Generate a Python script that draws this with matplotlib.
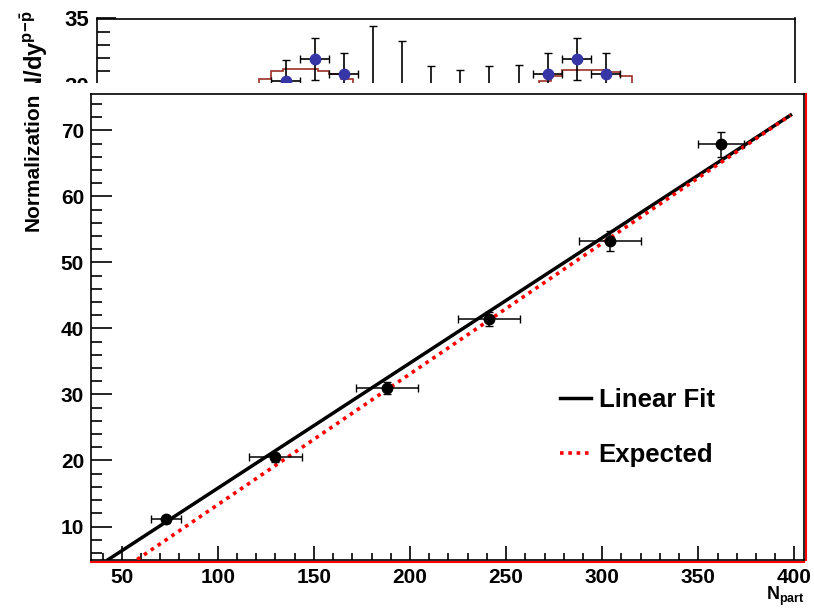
import matplotlib.pyplot as plt
from matplotlib.ticker import MultipleLocator, NullLocator
from matplotlib.transforms import offset_copy

plt.rcParams['font.family'] = ['Liberation Sans', 'DejaVu Sans']
plt.rcParams['font.weight'] = 'bold'
plt.rcParams['mathtext.fontset'] = 'custom'
plt.rcParams['mathtext.rm'] = 'Liberation Sans:bold'
plt.rcParams['mathtext.bf'] = 'Liberation Sans:bold'

# main panel: normalization vs N_part
npart = [73, 130, 188, 241, 304, 362]
npart_err = [8, 14, 16, 16, 16, 12]
norm = [11.1, 20.5, 31.0, 41.4, 53.2, 67.9]
norm_err = [0.5, 0.7, 0.9, 1.1, 1.5, 1.9]

fit_npart = [43, 398]
fit_norm = [5.0, 72.3]
exp_npart = [58, 398]
exp_norm = [5.0, 72.3]

# background panel (dN/dy), mostly hidden
rap_pts = [-0.55, -0.45, -0.35, 0.35, 0.45, 0.55]
dndy_pts = [30.25, 31.95, 30.8, 30.78, 31.95, 30.78]
dndy_err = [1.6, 1.6, 1.6, 1.6, 1.6, 1.6]
rap_mid = [-0.25, -0.15, -0.05, 0.05, 0.15, 0.25]
dndy_mid = [27.8, 28.6, 28.9, 28.7, 28.9, 29.0]
dndy_mid_err = [6.6, 4.7, 2.5, 2.4, 2.5, 2.5]
hist_left_edges = [-0.68, -0.64, -0.60, -0.56, -0.52, -0.48, -0.44, -0.40, -0.36, -0.32, -0.28]
hist_left = [29.8, 30.43, 31.0, 31.19, 31.2, 31.2, 31.0, 30.76, 30.43, 29.8]
hist_right_edges = [0.28, 0.32, 0.36, 0.40, 0.44, 0.48, 0.52, 0.56, 0.60, 0.64, 0.68]
hist_right = [29.8, 30.25, 30.63, 31.08, 31.1, 31.1, 31.1, 30.93, 30.63, 29.8]

W, H = 814, 608
fig = plt.figure(figsize=(W / 100, H / 100), dpi=100)

# upper panel
up = fig.add_axes([96.5 / W, (H - 400) / H, (795 - 96.5) / W, (400 - 18.5) / H])
up.set_xlim(-1.2, 1.2)
up.set_ylim(6.1, 35)
up.stairs(hist_left, hist_left_edges, color='#9c2e26', lw=1.2)
up.stairs(hist_right, hist_right_edges, color='#9c2e26', lw=1.2)
up.errorbar(rap_mid, dndy_mid, xerr=0.05, yerr=dndy_mid_err, fmt='none',
            ecolor='black', elinewidth=1.2, capsize=3)
up.errorbar(rap_pts, dndy_pts, xerr=0.05, yerr=dndy_err, fmt='o', color='#3636a6',
            ms=7.5, ecolor='black', elinewidth=1.2, capsize=3)
up.yaxis.set_major_locator(MultipleLocator(5))
up.yaxis.set_minor_locator(MultipleLocator(1))
up.xaxis.set_major_locator(NullLocator())
up.tick_params(axis='y', which='major', direction='in', length=14, width=1.2, labelsize=16, pad=5)
up.tick_params(axis='y', which='minor', direction='in', length=9, width=1.2)
for s in up.spines.values():
    s.set_linewidth(1.2)
# drawn with the upper axes so the white cover hides its lower part
up.text(34 / W, 1 - 10 / H, r'dN/dy$^{\mathbf{p\!-\!\bar{p}}}$', rotation=90,
        transform=fig.transFigure, clip_on=False,
        ha='center', va='top', fontsize=17, fontweight='bold')

# white cover of the lower part
cover = fig.add_axes([0, 0, 1, (H - 83) / H])
cover.axis('off')
cover.add_patch(plt.Rectangle((0, 0), 1, 1, transform=cover.transAxes, color='white'))

# main panel
ax = fig.add_axes([91 / W, (H - 560) / H, (804 - 91) / W, (560 - 94) / H])
ax.set_xlim(34, 405)
ax.set_ylim(4.93, 75.5)
ax.plot(fit_npart, fit_norm, color='black', lw=2.5, label='Linear Fit', zorder=3)
ax.plot(exp_npart, exp_norm, color='red', lw=2.6, ls=(0, (1, 1.3)), label='Expected', zorder=4)
ax.errorbar(npart, norm, xerr=npart_err, yerr=norm_err, fmt='o', color='black',
            ms=7.5, elinewidth=1.1, capsize=3, zorder=5)

ax.xaxis.set_major_locator(MultipleLocator(50))
ax.xaxis.set_minor_locator(MultipleLocator(10))
ax.yaxis.set_major_locator(MultipleLocator(10))
ax.yaxis.set_minor_locator(MultipleLocator(2))
ax.tick_params(axis='x', which='major', direction='in', length=10, width=1.2, labelsize=15, pad=6)
ax.tick_params(axis='x', which='minor', direction='in', length=5, width=1.2)
ax.tick_params(axis='y', which='major', direction='in', length=15, width=1.2, labelsize=15, pad=5)
ax.tick_params(axis='y', which='minor', direction='in', length=8, width=1.2)
for s in ax.spines.values():
    s.set_linewidth(1.2)

# red frame lines just outside bottom and right
red_b = offset_copy(ax.transAxes, fig=fig, y=-2, units='dots')
ax.plot([0, 1], [0, 0], transform=red_b, color='red', lw=1.5, clip_on=False)
red_r = offset_copy(ax.transAxes, fig=fig, x=2, units='dots')
ax.plot([1, 1], [0, 1], transform=red_r, color='red', lw=1.5, clip_on=False)

ax.legend(loc='upper left', bbox_to_anchor=(560 / W, 1 - 388 / H), bbox_transform=fig.transFigure,
          frameon=False, fontsize=18.5, handlelength=1.2, handletextpad=0.3,
          borderpad=0, borderaxespad=0, labelspacing=1.2)

fig.text(33 / W, 1 - 93 / H, 'Normalization', rotation=90, ha='center', va='top',
         fontsize=15, fontweight='bold')
fig.text(805 / W, 1 - 585 / H, r'$\mathbf{N}_{\mathbf{part}}$', ha='right', va='top', fontsize=13)

fig.savefig('out.png', dpi=100)
